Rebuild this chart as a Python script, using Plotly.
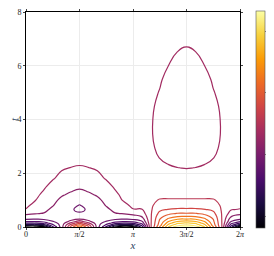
import plotly.graph_objects as go

# grid coordinates (x in radians, t)
x_vals = [0.0, 0.262, 0.524, 0.785, 1.047, 1.309, 1.571, 1.833, 2.094, 2.356, 2.618, 2.880,
          3.142, 3.403, 3.665, 3.927, 4.189, 4.451, 4.712, 4.974, 5.236, 5.498, 5.760, 6.021, 6.283]
t_vals = [0, 0.05, 0.1, 0.15, 0.2, 0.3, 0.4, 0.5, 0.65, 0.8, 1.0, 1.2, 1.5, 1.8, 2.2, 2.6,
          3.0, 3.5, 4.0, 4.5, 5.0, 5.5, 6.0, 6.5, 7.0, 8.0]

# u(x, t): one list per x column, values along t (estimated from the contours)
u_columns = [
    [-0.12, 0.24, 0.52, 0.74, 0.91, 1.13, 1.24, 1.34, 1.49, 1.54, 1.57, 1.58, 1.59, 1.595, 1.6, 1.6, 1.6, 1.6, 1.6, 1.6, 1.6, 1.6, 1.6, 1.6, 1.6, 1.6],
    [-0.186, 0.21, 0.49, 0.72, 0.89, 1.12, 1.22, 1.31, 1.38, 1.44, 1.51, 1.535, 1.56, 1.575, 1.59, 1.595, 1.6, 1.6, 1.6, 1.6, 1.6, 1.6, 1.6, 1.6, 1.6, 1.6],
    [-0.03, 0.32, 0.56, 0.8, 0.94, 1.14, 1.23, 1.29, 1.35, 1.39, 1.43, 1.47, 1.52, 1.55, 1.575, 1.59, 1.595, 1.6, 1.6, 1.6, 1.6, 1.6, 1.6, 1.6, 1.6, 1.6],
    [0.64, 0.81, 0.91, 1.02, 1.09, 1.16, 1.2, 1.23, 1.26, 1.31, 1.35, 1.39, 1.45, 1.51, 1.55, 1.575, 1.59, 1.597, 1.6, 1.6, 1.6, 1.6, 1.6, 1.6, 1.6, 1.6],
    [1.2, 1.2, 1.19, 1.18, 1.17, 1.16, 1.16, 1.16, 1.17, 1.2, 1.26, 1.32, 1.39, 1.46, 1.515, 1.55, 1.57, 1.585, 1.595, 1.6, 1.6, 1.6, 1.6, 1.6, 1.6, 1.6],
    [1.95, 1.84, 1.69, 1.53, 1.36, 1.22, 1.17, 1.14, 1.13, 1.15, 1.21, 1.27, 1.36, 1.43, 1.498, 1.54, 1.565, 1.585, 1.595, 1.6, 1.6, 1.6, 1.6, 1.6, 1.6, 1.6],
    [2.46, 2.25, 2.03, 1.83, 1.62, 1.28, 1.18, 1.13, 1.05, 1.09, 1.16, 1.23, 1.33, 1.41, 1.49, 1.535, 1.56, 1.58, 1.59, 1.595, 1.6, 1.6, 1.6, 1.6, 1.6, 1.6],
    [1.95, 1.84, 1.69, 1.53, 1.36, 1.22, 1.17, 1.14, 1.13, 1.15, 1.21, 1.27, 1.36, 1.43, 1.498, 1.54, 1.565, 1.585, 1.595, 1.6, 1.6, 1.6, 1.6, 1.6, 1.6, 1.6],
    [1.2, 1.2, 1.19, 1.18, 1.17, 1.16, 1.16, 1.16, 1.17, 1.2, 1.26, 1.32, 1.39, 1.46, 1.515, 1.55, 1.57, 1.585, 1.595, 1.6, 1.6, 1.6, 1.6, 1.6, 1.6, 1.6],
    [0.64, 0.81, 0.91, 1.02, 1.09, 1.16, 1.2, 1.23, 1.26, 1.31, 1.35, 1.39, 1.45, 1.51, 1.55, 1.575, 1.59, 1.597, 1.6, 1.6, 1.6, 1.6, 1.6, 1.6, 1.6, 1.6],
    [0.09, 0.37, 0.61, 0.81, 0.95, 1.14, 1.23, 1.29, 1.35, 1.39, 1.43, 1.47, 1.52, 1.55, 1.575, 1.59, 1.595, 1.6, 1.6, 1.6, 1.6, 1.6, 1.6, 1.6, 1.6, 1.6],
    [-0.12, 0.23, 0.51, 0.73, 0.91, 1.12, 1.22, 1.31, 1.39, 1.45, 1.52, 1.54, 1.565, 1.58, 1.59, 1.6, 1.6, 1.6, 1.6, 1.6, 1.6, 1.6, 1.6, 1.6, 1.6, 1.6],
    [-0.03, 0.32, 0.56, 0.78, 0.94, 1.14, 1.25, 1.35, 1.49, 1.54, 1.57, 1.58, 1.59, 1.595, 1.6, 1.59, 1.585, 1.585, 1.585, 1.585, 1.585, 1.59, 1.59, 1.59, 1.595, 1.595],
    [0.58, 0.71, 0.85, 0.97, 1.07, 1.2, 1.31, 1.4, 1.49, 1.55, 1.58, 1.59, 1.6, 1.595, 1.585, 1.57, 1.56, 1.555, 1.555, 1.56, 1.565, 1.57, 1.575, 1.58, 1.585, 1.595],
    [1.68, 1.68, 1.68, 1.68, 1.68, 1.68, 1.68, 1.68, 1.675, 1.67, 1.66, 1.63, 1.61, 1.59, 1.56, 1.535, 1.52, 1.51, 1.51, 1.515, 1.525, 1.535, 1.55, 1.56, 1.57, 1.59],
    [2.33, 2.23, 2.19, 2.165, 2.14, 2.09, 2.03, 1.96, 1.86, 1.785, 1.713, 1.65, 1.62, 1.58, 1.53, 1.495, 1.47, 1.46, 1.466, 1.478, 1.495, 1.512, 1.53, 1.545, 1.56, 1.585],
    [2.925, 2.82, 2.71, 2.61, 2.515, 2.34, 2.18, 2.06, 1.91, 1.815, 1.717, 1.65, 1.62, 1.58, 1.515, 1.465, 1.43, 1.415, 1.415, 1.425, 1.445, 1.47, 1.499, 1.525, 1.545, 1.58],
    [3.29, 3.08, 2.97, 2.86, 2.72, 2.47, 2.275, 2.114, 1.928, 1.818, 1.717, 1.65, 1.62, 1.57, 1.502, 1.45, 1.415, 1.395, 1.39, 1.395, 1.41, 1.44, 1.47, 1.498, 1.53, 1.57],
    [3.33, 3.2, 3.044, 2.91, 2.773, 2.49, 2.283, 2.114, 1.928, 1.818, 1.717, 1.65, 1.62, 1.57, 1.495, 1.45, 1.41, 1.39, 1.38, 1.38, 1.4, 1.43, 1.46, 1.49, 1.515, 1.57],
    [3.29, 3.08, 2.97, 2.86, 2.72, 2.47, 2.275, 2.114, 1.928, 1.818, 1.717, 1.65, 1.62, 1.57, 1.502, 1.45, 1.415, 1.395, 1.39, 1.395, 1.41, 1.44, 1.47, 1.498, 1.53, 1.57],
    [2.925, 2.82, 2.71, 2.61, 2.515, 2.34, 2.18, 2.06, 1.91, 1.815, 1.717, 1.65, 1.62, 1.58, 1.515, 1.465, 1.43, 1.415, 1.415, 1.425, 1.445, 1.47, 1.499, 1.525, 1.545, 1.58],
    [2.33, 2.23, 2.19, 2.165, 2.14, 2.09, 2.03, 1.96, 1.86, 1.785, 1.713, 1.65, 1.62, 1.58, 1.53, 1.495, 1.47, 1.46, 1.466, 1.478, 1.495, 1.512, 1.53, 1.545, 1.56, 1.585],
    [1.68, 1.68, 1.68, 1.68, 1.68, 1.68, 1.68, 1.68, 1.675, 1.67, 1.66, 1.63, 1.61, 1.59, 1.56, 1.535, 1.52, 1.51, 1.51, 1.515, 1.525, 1.535, 1.55, 1.56, 1.57, 1.59],
    [0.58, 0.73, 0.86, 0.98, 1.09, 1.2, 1.31, 1.41, 1.51, 1.55, 1.58, 1.59, 1.6, 1.6, 1.585, 1.57, 1.56, 1.555, 1.555, 1.56, 1.565, 1.57, 1.575, 1.58, 1.585, 1.595],
    [-0.12, 0.24, 0.52, 0.74, 0.91, 1.13, 1.24, 1.34, 1.49, 1.54, 1.57, 1.58, 1.59, 1.595, 1.6, 1.6, 1.6, 1.6, 1.6, 1.6, 1.6, 1.6, 1.6, 1.6, 1.6, 1.6],
]

# contour levels and colour range
level_start, level_end, level_step = 0.1, 3.3, 0.2
color_min, color_max = -0.19, 3.33

# tick labels
x_tickvals = [0, 1.5707963, 3.1415927, 4.712389, 6.2831853]
x_ticktext = ["0", "<i>π</i>/2", "<i>π</i>", "3<i>π</i>/2", "2<i>π</i>"]
y_tickvals = [0, 2, 4, 6, 8]
cbar_tickvals = [0, 1, 2, 3]

FONT = "Liberation Serif"

fig = go.Figure()
fig.add_trace(go.Contour(
    x=x_vals, y=t_vals, z=u_columns, transpose=True,
    colorscale="Inferno", zmin=color_min, zmax=color_max, zauto=False,
    contours=dict(start=level_start, end=level_end, size=level_step, coloring="lines"),
    line=dict(width=1.2, smoothing=1.3),
    showscale=False, hoverinfo="skip",
))
# colour bar
fig.add_trace(go.Scatter(
    x=[None], y=[None], mode="markers", showlegend=False,
    marker=dict(colorscale="Inferno", cmin=color_min, cmax=color_max, color=[color_min],
                showscale=True,
                colorbar=dict(thickness=9, len=1.01, lenmode="fraction", y=0.5, yanchor="middle",
                              x=1.073, xanchor="left", xpad=0, ypad=0,
                              outlinewidth=0.6, outlinecolor="#555555",
                              tickvals=cbar_tickvals, ticks="outside", ticklen=2, tickcolor="#888888",
                              ticklabeloverflow="allow",
                              tickfont=dict(family=FONT, size=8, color="#222222"))),
))

axis_common = dict(showgrid=True, gridcolor="#ececec", gridwidth=1, zeroline=False,
                   showline=True, linecolor="black", linewidth=1, mirror="ticks",
                   ticks="outside", ticklen=2, tickcolor="#444444", automargin=False,
                   ticklabeloverflow="allow",
                   tickfont=dict(family=FONT, size=8, color="#222222"))
# the page body adds an 8 px offset, so the figure is 8 px smaller and margins shifted
fig.update_layout(
    width=266, height=248,
    margin=dict(l=18, r=34, t=4, b=29, autoexpand=False),
    paper_bgcolor="white", plot_bgcolor="white",
    showlegend=False,
    xaxis=dict(range=[0, 6.2831853], tickvals=x_tickvals, ticktext=x_ticktext,
               ticklabelstandoff=-3,
               title=dict(text="<i>x</i>", font=dict(family=FONT, size=11), standoff=1),
               **axis_common),
    yaxis=dict(range=[0, 8], tickvals=y_tickvals,
               title=dict(text="<i>t</i>", font=dict(family=FONT, size=11), standoff=3),
               **axis_common),
)
fig.write_html("out.html")
